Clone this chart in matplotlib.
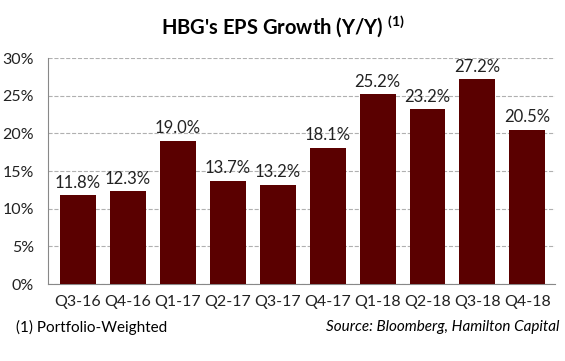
import matplotlib
matplotlib.use("Agg")
import matplotlib.pyplot as plt
from matplotlib.ticker import FuncFormatter

plt.rcParams['font.family'] = ['Lato', 'DejaVu Sans']
plt.rcParams['mathtext.fontset'] = 'custom'
plt.rcParams['mathtext.bf'] = 'Lato:bold'
plt.rcParams['mathtext.rm'] = 'Lato'

quarters = ['Q3-16', 'Q4-16', 'Q1-17', 'Q2-17', 'Q3-17', 'Q4-17', 'Q1-18', 'Q2-18', 'Q3-18', 'Q4-18']
eps_growth = [11.8, 12.3, 19.0, 13.7, 13.2, 18.1, 25.2, 23.2, 27.2, 20.5]
yticks = [0, 5, 10, 15, 20, 25, 30]

fig = plt.figure(figsize=(5.65, 3.61), dpi=100)
ax = fig.add_axes([0.085, 0.213, 0.897, 0.626])

x = list(range(len(quarters)))
bars = ax.bar(x, eps_growth, width=0.72, color='#5a0000', zorder=3)
for xi, v in zip(x, eps_growth):
    ax.text(xi, v + 0.6, f'{v:.1f}%', ha='center', va='bottom', fontsize=12, color='#222222')

ax.set_xlim(-0.6, 9.55)
ax.set_ylim(0, 30)
ax.set_yticks(yticks)
ax.yaxis.set_major_formatter(FuncFormatter(lambda v, p: f'{v:.0f}%'))
ax.set_xticks(x)
ax.set_xticklabels(quarters)
ax.tick_params(axis='both', length=0, labelsize=11.5, colors='#222222')
ax.tick_params(axis='x', pad=8)
ax.tick_params(axis='y', pad=10)
ax.grid(axis='y', linestyle='--', color='#b0b0b0', linewidth=0.8, zorder=0)
for s in ['top', 'right']:
    ax.spines[s].set_visible(False)
ax.spines['left'].set_color('#888888')
ax.spines['bottom'].set_color('#888888')

fig.text(0.5, 0.925, "HBG's EPS Growth (Y/Y) $^{\\mathbf{(1)}}$", ha='center', va='center',
         fontsize=14.5, fontweight='bold')
fig.text(0.028, 0.094, '(1) Portfolio-Weighted', ha='left', va='center', fontsize=11)
fig.text(0.99, 0.094, 'Source: Bloomberg, Hamilton Capital', ha='right', va='center',
         fontsize=11, style='italic')

fig.savefig('out.png', dpi=100)
